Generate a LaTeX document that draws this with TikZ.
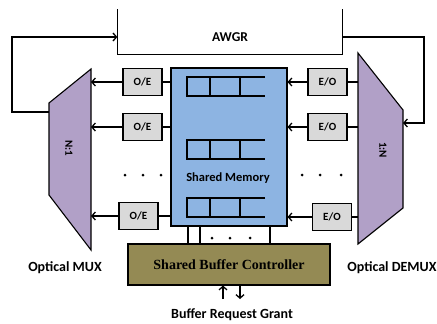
\documentclass[tikz,border=0pt]{standalone}
\usepackage{fontspec}
\setmainfont{Carlito}
\newfontfamily\ctrlfont{Liberation Serif}
\usetikzlibrary{arrows.meta,positioning}
\definecolor{memblue}{HTML}{8DB4E2}
\definecolor{muxlilac}{HTML}{B1A0C7}
\definecolor{ctrlolive}{HTML}{948A54}
\definecolor{boxgrey}{HTML}{D9D9D9}
\tikzset{
	lbl/.style = {font=\fontsize{11}{13}\selectfont\bfseries, inner sep=0pt},
	big_lbl/.style = {lbl, font=\fontsize{14}{16}\selectfont\bfseries},% captions
	conv_b/.style = {lbl, draw=black, fill=boxgrey, line width=1.1pt,
		minimum width=39pt, minimum height=27pt},% O/E and E/O boxes
	mux_s/.style = {draw=black, fill=muxlilac, line width=1.1pt},% MUX / DEMUX
	mem_b/.style = {draw=black, fill=memblue, line width=1.1pt,
		minimum width=116pt, minimum height=158pt},% shared memory
	ctrl_b/.style = {draw=black, fill=ctrlolive, line width=1.1pt,
		minimum width=202pt, minimum height=41pt,
		font=\ctrlfont\fontsize{14}{16}\selectfont\bfseries},% controller
	link/.style = {line width=2.8pt},% thick short links
	dot/.style = {circle, fill=black, inner sep=0pt, minimum size=3pt}
}

\begin{document}
\begin{tikzpicture}[x=1pt,y=-1pt,line width=1.3pt,
	>={Straight Barb[length=3.5pt,width=8pt]}]
\useasboundingbox (0,0) rectangle (437,324);

% AWGR, open at the top
\node [minimum width=224pt, minimum height=44pt] (awgr) at (230,32) {};
\draw (awgr.north west) -- (awgr.south west) -- (awgr.south east) -- (awgr.north east);
\node [lbl, font=\fontsize{13.5}{15}\selectfont\bfseries] at ([yshift=-5pt]awgr.center) {AWGR};

% multiplexers
\draw [mux_s] (49,103) -- (91,69) -- (91,250) -- (49,195) -- cycle;
\node [lbl, rotate=-90] (mux) at (69,148) {N:1};
\draw [mux_s] (358,53) -- (403,110) -- (403,208) -- (358,244) -- cycle;
\node [lbl, rotate=-90] (demux) at (383,150) {1:N};
\node [big_lbl] (muxname) at (65,268) {Optical MUX};
\node [big_lbl] (demuxname) at (392,268) {Optical DEMUX};

% shared memory
\node [mem_b] (mem) at (229,147) {};
\foreach \qy in {77,140,198}{
	\draw (265,\qy) -- (187,\qy) -- (187,\qy+19) -- (265,\qy+19);
	\draw (210,\qy) -- (210,\qy+19) (240,\qy) -- (240,\qy+19);
}
\node [lbl, font=\fontsize{12.5}{14}\selectfont\bfseries] (memname) at (228,178) {Shared Memory};

% converters
\node [conv_b] (oe1) at (142.5,82) {O/E};
\node [conv_b] (oe2) at (142.5,127) {O/E};
\node [conv_b] (oe3) at (138.5,216) {O/E};
\node [conv_b] (eo1) at (327.5,82) {E/O};
\node [conv_b] (eo2) at (327.5,127) {E/O};
\node [conv_b] (eo3) at (332,217) {E/O};

\foreach \n in {1,2,3}{
	\draw [->] (oe\n.west) -- (oe\n.west -| 91,0);
	\draw [link] (oe\n.east) -- (oe\n.east -| mem.west);
	\draw [->] (eo\n.west) -- (eo\n.west -| mem.east);
	\draw [link] (eo\n.east) -- (eo\n.east -| 358,0);
}

\foreach \dx in {125,143,161,302,320,341}
	\node [dot] at (\dx,175) {};

% controller
\node [ctrl_b] (ctrl) at (229,264.5) {Shared Buffer Controller};
\foreach \lx in {188,200,270}
	\draw (mem.south -| \lx,0) -- (ctrl.north -| \lx,0);
\foreach \dx in {212,230,250}
	\node [dot] at (\dx,238) {};

\node [big_lbl] (reqgrant) at (232,315) {Buffer Request Grant};
\draw [->] (223,299) -- (ctrl.south -| 223,0);
\draw [->] (ctrl.south -| 240,0) -- (240,299);

% loop through the AWGR
\draw [->] (49,112) -- (12,112) |- ([yshift=-5pt]awgr.west);
\draw [->] ([yshift=-5pt]awgr.east) -- (424,37) |- (403,123);
\end{tikzpicture}
\end{document}
